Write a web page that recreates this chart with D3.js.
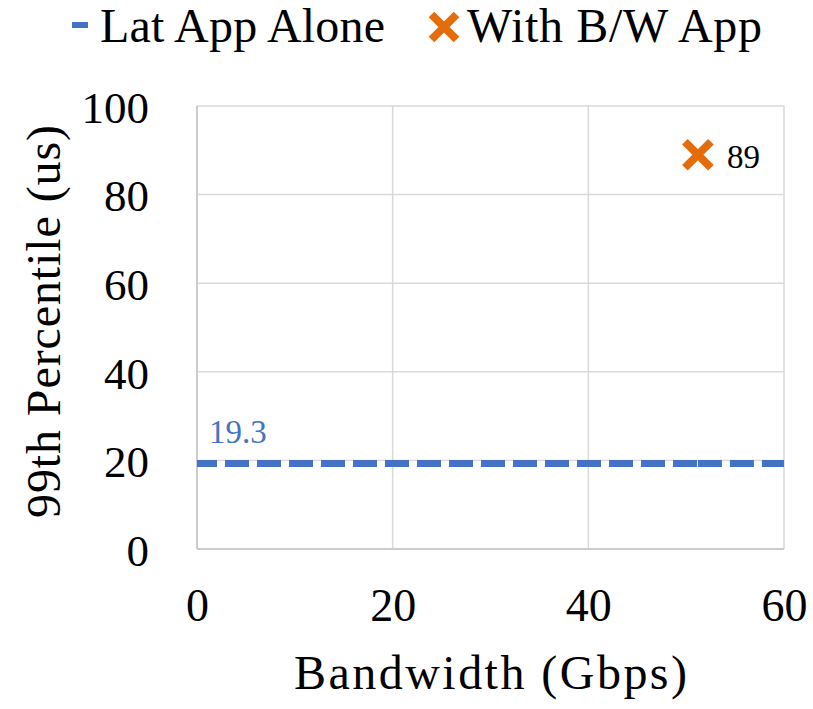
<!DOCTYPE html>
<html>
<head>
<meta charset="utf-8">
<script src="https://cdn.jsdelivr.net/npm/d3@7"></script>
<style>
  html, body { margin: 0; padding: 0; background: #ffffff; }
  svg { display: block; }
  text { font-family: "Liberation Serif", "Times New Roman", serif; }
</style>
</head>
<body>
<svg id="chart" width="813" height="709"></svg>
<script>
// Latency-only baseline (drawn as a dashed line across the bandwidth range)
const latX = [0, 51.2, 60];
const latY = [19.3, 19.3, 19.3];
// Latency app measured while a bandwidth-heavy app runs
const bwX = [51.2];
const bwY = [89];

const xTicks = [0, 20, 40, 60];
const yTicks = [0, 20, 40, 60, 80, 100];
const seriesNames = ["Lat App Alone", "With B/W App"];
const xTitle = "Bandwidth (Gbps)";
const yTitle = "99th Percentile (us)";

const BLUE = "#4472C4";
const ORANGE = "#E46C0A";
const GRID = "#d9d9d9";

const svg = d3.select("#chart");
const plot = { left: 197, right: 784, top: 106, bottom: 549 };

const x = d3.scaleLinear().domain([0, 60]).range([plot.left, plot.right]);
const y = d3.scaleLinear().domain([0, 100]).range([plot.bottom, plot.top]);

// Gridlines
const grid = svg.append("g");
grid.selectAll("line.h").data(yTicks.filter(d => d > 0)).join("line")
  .attr("x1", plot.left).attr("x2", plot.right)
  .attr("y1", d => y(d)).attr("y2", d => y(d))
  .attr("stroke", GRID).attr("stroke-width", 1.5);
grid.selectAll("line.v").data(xTicks.filter(d => d > 0)).join("line")
  .attr("y1", plot.top).attr("y2", plot.bottom)
  .attr("x1", d => x(d)).attr("x2", d => x(d))
  .attr("stroke", GRID).attr("stroke-width", 1.5);

// Axis lines
svg.append("line").attr("x1", plot.left).attr("x2", plot.left)
  .attr("y1", plot.top).attr("y2", plot.bottom)
  .attr("stroke", "#cccccc").attr("stroke-width", 2);
svg.append("line").attr("x1", plot.left).attr("x2", plot.right)
  .attr("y1", plot.bottom).attr("y2", plot.bottom)
  .attr("stroke", "#cccccc").attr("stroke-width", 2);

// Y tick labels
const yAxis = d3.axisLeft(y).tickValues(yTicks).tickSize(0).tickPadding(48);
const gy = svg.append("g").attr("transform", `translate(${plot.left},0)`).call(yAxis);
gy.select(".domain").remove();
gy.selectAll("text").attr("font-size", 45).attr("fill", "#000")
  .attr("font-family", "Liberation Serif").attr("dy", "0.36em");

// X tick labels
const xAxis = d3.axisBottom(x).tickValues(xTicks).tickSize(0).tickPadding(58);
const gx = svg.append("g").attr("transform", `translate(0,${plot.bottom})`).call(xAxis);
gx.select(".domain").remove();
gx.selectAll("text").attr("font-size", 46).attr("fill", "#000")
  .attr("font-family", "Liberation Serif").attr("dy", "0.3em");

// Axis titles
svg.append("text")
  .attr("x", (plot.left + plot.right) / 2).attr("y", 689)
  .attr("text-anchor", "middle").attr("font-size", 48)
  .attr("textLength", 393).attr("lengthAdjust", "spacing")
  .text(xTitle);
svg.append("text")
  .attr("transform", `translate(60,${(125 + 518) / 2}) rotate(-90)`)
  .attr("text-anchor", "middle").attr("font-size", 48)
  .attr("textLength", 393).attr("lengthAdjust", "spacing")
  .text(yTitle);

// Dashed baseline, one path per segment between consecutive points
const latPts = latX.map((d, i) => [d, latY[i]]);
const line = d3.line().x(d => x(d[0])).y(d => y(d[1]));
const segs = d3.pairs(latPts);
svg.append("g").selectAll("path").data(segs).join("path")
  .attr("d", d => line(d))
  .attr("fill", "none").attr("stroke", BLUE).attr("stroke-width", 7)
  .attr("stroke-dasharray", "24 8")
  .attr("stroke-dashoffset", (d, i) => i === 0 ? 4 : 0)
  .attr("stroke-linecap", "butt");

// Value label for the baseline
svg.append("text")
  .attr("x", x(latX[0]) + 12).attr("y", y(latY[0]) - 21)
  .attr("font-size", 33).attr("fill", BLUE)
  .text(latY[0]);

// X marker path helper
function xMark(cx, cy, a) {
  return `M${cx - a},${cy - a}L${cx + a},${cy + a}M${cx - a},${cy + a}L${cx + a},${cy - a}`;
}

// With-B/W points
const bwPts = bwX.map((d, i) => [d, bwY[i]]);
svg.append("g").selectAll("path").data(bwPts).join("path")
  .attr("d", d => xMark(x(d[0]), y(d[1]), 13))
  .attr("fill", "none").attr("stroke", ORANGE).attr("stroke-width", 8);
svg.append("g").selectAll("text").data(bwPts).join("text")
  .attr("x", d => x(d[0]) + 29).attr("y", d => y(d[1]) + 13)
  .attr("font-size", 33).attr("fill", "#000")
  .text(d => d[1]);

// Legend
const lg = svg.append("g");
lg.append("rect").attr("x", 72).attr("y", 22).attr("width", 16).attr("height", 6).attr("fill", BLUE);
lg.append("text").attr("x", 100).attr("y", 42).attr("font-size", 48)
  .attr("textLength", 285).attr("lengthAdjust", "spacing").text(seriesNames[0]);
lg.append("path").attr("d", xMark(444, 27, 12.5))
  .attr("fill", "none").attr("stroke", ORANGE).attr("stroke-width", 8);
lg.append("text").attr("x", 467).attr("y", 42).attr("font-size", 48)
  .attr("textLength", 295).attr("lengthAdjust", "spacing").text(seriesNames[1]);
</script>
</body>
</html>
